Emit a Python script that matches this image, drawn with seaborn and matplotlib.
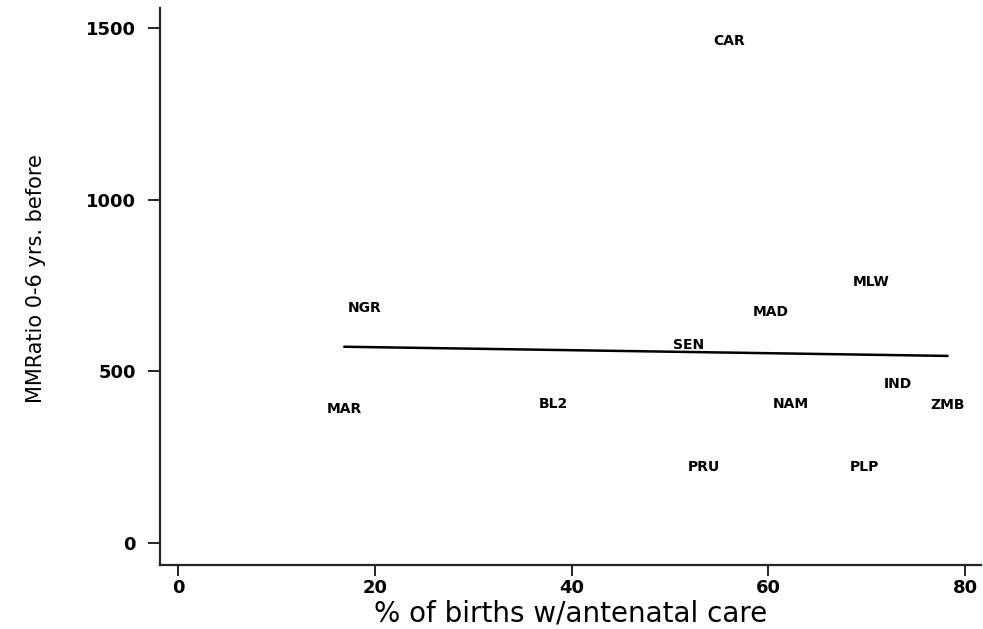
import pandas as pd
import matplotlib
matplotlib.use("Agg")
import matplotlib.pyplot as plt
import seaborn as sns

# === DATA ===
# country codes and values
countries = ['MAR', 'NGR', 'BL2', 'SEN', 'PRU', 'CAR', 'MAD', 'NAM', 'PLP', 'MLW', 'IND', 'ZMB']
antenatal = [16.9, 19.0, 38.1, 51.9, 53.4, 56.0, 60.2, 62.3, 69.8, 70.4, 73.2, 78.2]
mmratio = [390, 684, 405, 577, 221, 1462, 673, 405, 221, 760, 463, 402]

x_ticks = [0, 20, 40, 60, 80]
y_ticks = [0, 500, 1000, 1500]

df = pd.DataFrame({'country': countries, 'antenatal': antenatal, 'mmratio': mmratio})

# === PLOT ===
sns.set_style("ticks")
plt.rcParams['font.family'] = ['DejaVu Sans']

fig = plt.figure(figsize=(9.83, 6.29), dpi=100)
ax = fig.add_axes([0.163, 0.102, 0.835, 0.885])

# fitted line only, country codes act as the markers
sns.regplot(data=df, x='antenatal', y='mmratio', scatter=False, ci=None,
            color='black', line_kws={'linewidth': 1.8}, ax=ax)

for _, row in df.iterrows():
    ax.text(row['antenatal'], row['mmratio'], row['country'], ha='center', va='center',
            fontsize=10, fontweight='bold', color='black')

ax.set_xlim(-1.8, 81.6)
ax.set_ylim(-64, 1558)
ax.set_xticks(x_ticks)
ax.set_yticks(y_ticks)
ax.tick_params(axis='y', direction='out', length=8.6, width=1.2, labelsize=13, pad=9, colors='black')
ax.tick_params(axis='x', direction='out', length=8, width=1.2, labelsize=13, pad=2, colors='black')
for lbl in ax.get_xticklabels() + ax.get_yticklabels():
    lbl.set_fontweight('bold')

ax.set_xlabel('% of births w/antenatal care', fontsize=20, labelpad=2, color='black')
ax.set_ylabel('MMRatio 0-6 yrs. before', fontsize=15, color='black')
ax.yaxis.set_label_coords(-0.139, 0.515)

sns.despine(ax=ax)
ax.spines['left'].set_linewidth(1.6)
ax.spines['bottom'].set_linewidth(1.6)

fig.savefig('out.png', dpi=100)
